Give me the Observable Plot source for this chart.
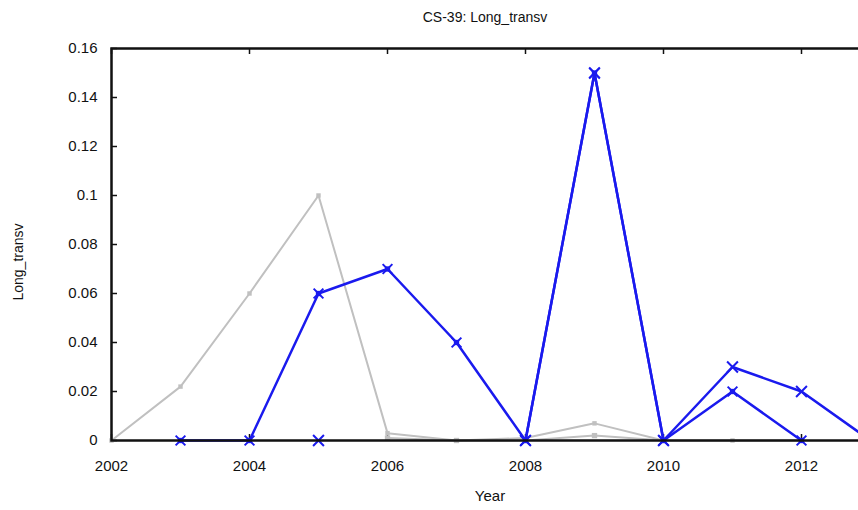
<!DOCTYPE html>
<html><head><meta charset="utf-8">
<script src="https://cdn.jsdelivr.net/npm/d3@7"></script>
<script src="https://cdn.jsdelivr.net/npm/@observablehq/plot@0.6"></script>
<style>
html,body{margin:0;padding:0;background:#fff;overflow:hidden;width:858px;height:510px}
#wrap{position:relative;width:858px;height:510px;overflow:hidden;font-family:"Liberation Sans Narrow","Arial Narrow","Liberation Sans",sans-serif;color:#111}
#chart{position:absolute;left:0;top:0;width:872px}
#chart svg{max-width:none !important}
.t{position:absolute;white-space:nowrap;font-size:15px}
</style></head>
<body><div id="wrap">
<div id="chart"></div>
<div class="t" id="title" style="left:485px;top:9px;transform:translateX(-50%);font-size:14px">CS-39: Long_transv</div>
<div class="t" id="ylab" style="left:18px;top:262px;transform:translate(-50%,-50%) rotate(-90deg);font-size:14px">Long_transv</div>
<div class="t" id="xlab" style="left:490px;top:487px;transform:translateX(-50%);font-size:15px">Year</div>
</div>
<script>
const years = [2002,2003,2004,2005,2006,2007,2008,2009,2010,2011,2012,2013];
const grayA = [0, 0.022, 0.06, 0.1, 0.003, 0, 0.001, 0.007, 0, 0, 0, null];
const grayB = [null, null, null, null, 0.001, 0, 0, 0.002, 0, null, null, null];
const blueA = [null, 0, 0, 0.06, 0.07, 0.04, 0, 0.15, 0, 0.02, 0, null];
const blueB = [null, null, null, 0, null, null, 0, 0.15, 0, 0.03, 0.02, 0];
const xTicks = [2002,2004,2006,2008,2010,2012];
const yTicks = [0,0.02,0.04,0.06,0.08,0.1,0.12,0.14,0.16];

const W = 872, H = 510, ML = 111, MR = 2, MT = 48, MB = 70;
const TICK = 6;
const rows = vals => years.map((x,i)=>({x, y: vals[i]}));
const defined = vals => rows(vals).filter(d => d.y != null);
const fmtY = d => String(+d.toFixed(3));
const GRAY = "#c0c0c0", BLUE = "#1a1aee";
const innerH = H - MT - MB, innerW = W - ML - MR;

const plot = Plot.plot({
  width: W, height: H,
  marginLeft: ML, marginRight: MR, marginTop: MT, marginBottom: MB,
  x: {domain: [2002, 2013]},
  y: {domain: [0, 0.16]},
  style: {fontFamily: '"Liberation Sans Narrow","Arial Narrow","Liberation Sans",sans-serif', fontSize: "15px", color: "#111", background: "#fff", maxWidth: "none"},
  marks: [
    Plot.axisX({anchor: "bottom", ticks: xTicks, tickFormat: d => String(d), tickSize: 0, tickPadding: 20, label: null}),
    Plot.axisY({anchor: "left", ticks: yTicks, tickFormat: fmtY, tickSize: 0, tickPadding: 14, label: null}),
    // inward ticks on all four sides
    Plot.ruleX(xTicks, {x: d => d, insetTop: innerH - TICK, stroke: "#111", strokeWidth: 1.5}),
    Plot.ruleX(xTicks, {x: d => d, insetBottom: innerH - TICK, stroke: "#111", strokeWidth: 1.5}),
    Plot.ruleY(yTicks, {y: d => d, insetRight: innerW - TICK, stroke: "#111", strokeWidth: 1.5}),
    Plot.line(rows(grayA), {x: "x", y: "y", stroke: GRAY, strokeWidth: 2}),
    Plot.line(rows(grayB), {x: "x", y: "y", stroke: GRAY, strokeWidth: 2}),
    Plot.dot(defined(grayA), {x: "x", y: "y", symbol: "square", r: 2.5, fill: GRAY}),
    Plot.dot(defined(grayB), {x: "x", y: "y", symbol: "square", r: 3, fill: GRAY}),
    Plot.line(rows(blueA), {x: "x", y: "y", stroke: BLUE, strokeWidth: 2.5}),
    Plot.line(rows(blueB), {x: "x", y: "y", stroke: BLUE, strokeWidth: 2.5}),
    Plot.dot(defined(blueA), {x: "x", y: "y", symbol: "square", r: 3, fill: BLUE}),
    Plot.dot(defined(blueA), {x: "x", y: "y", symbol: "times", r: 4.5, stroke: BLUE, strokeWidth: 2}),
    Plot.dot(defined(blueB), {x: "x", y: "y", symbol: "times", r: 5, stroke: BLUE, strokeWidth: 2}),
    Plot.frame({stroke: "#111", strokeWidth: 2.5})
  ]
});
document.getElementById("chart").appendChild(plot);
</script>
</body></html>
